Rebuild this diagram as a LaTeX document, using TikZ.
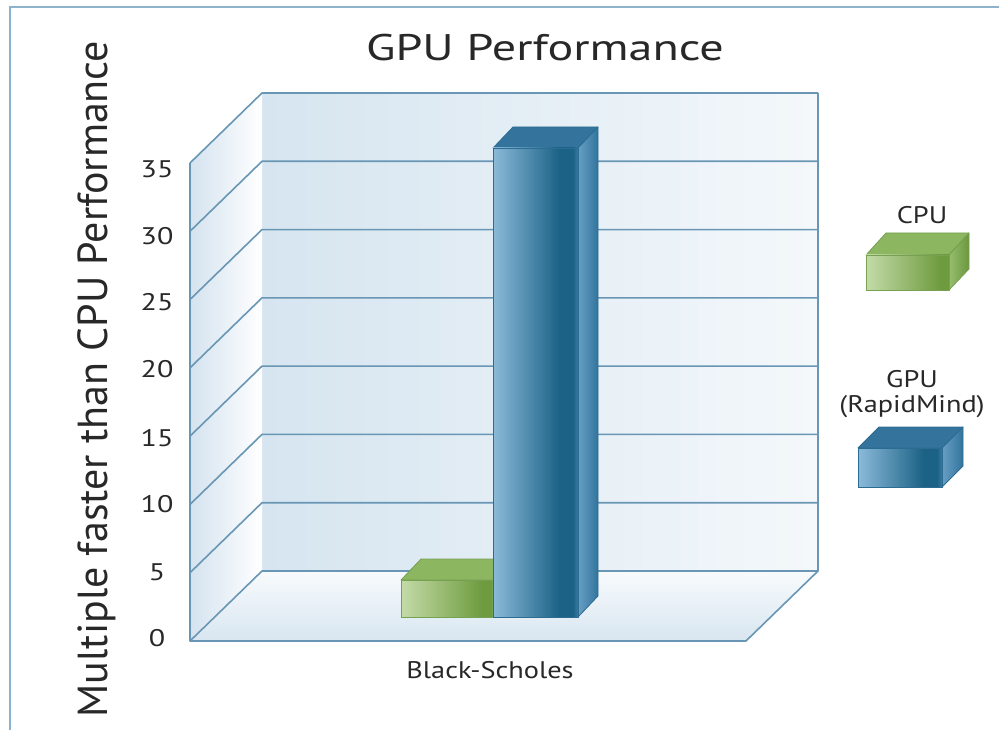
\documentclass[tikz,border=0pt]{standalone}
\usepackage{fontspec}
\setmainfont{PT Sans}
\definecolor{gridc}{RGB}{104,150,180}
\definecolor{frame}{RGB}{140,178,204}
\definecolor{wallL}{RGB}{214,229,240}
\definecolor{wallR}{RGB}{244,248,251}
\definecolor{sideL}{RGB}{212,227,239}
\definecolor{floorT}{RGB}{248,251,253}
\definecolor{floorB}{RGB}{216,230,240}
\definecolor{bL}{RGB}{140,186,217}
\definecolor{bD}{RGB}{27,98,134}
\definecolor{bM}{RGB}{58,122,160}
\definecolor{bTop}{RGB}{52,116,156}
\definecolor{bSideL}{RGB}{104,158,196}
\definecolor{bSideR}{RGB}{50,116,156}
\definecolor{bEdge}{RGB}{45,108,146}
\definecolor{gL}{RGB}{196,219,168}
\definecolor{gR}{RGB}{110,155,62}
\definecolor{gTop}{RGB}{140,182,96}
\definecolor{gSideL}{RGB}{150,190,110}
\definecolor{gSideR}{RGB}{108,150,62}
\definecolor{gEdge}{RGB}{118,160,82}
\definecolor{txt}{RGB}{40,40,40}
\pgfdeclarehorizontalshading{bluefront}{100bp}{color(0bp)=(bL); color(25bp)=(bL); color(64bp)=(bD); color(72bp)=(bD); color(75bp)=(bM); color(100bp)=(bM)}
\pgfdeclarehorizontalshading{greenfront}{100bp}{color(0bp)=(gL); color(25bp)=(gL); color(70bp)=(gR); color(75bp)=(gR); color(100bp)=(gR)}
\tikzset{
  gridline/.style={draw=gridc, line width=1.6pt, line join=round},
  ticklbl/.style={font=\fontsize{24}{26}\selectfont, text=txt, inner sep=0pt, xscale=1.25},
  lbl/.style={font=\fontsize{24}{26}\selectfont, text=txt, inner sep=0pt, xscale=1.18},
  bface/.style={draw=bEdge, line width=0.8pt, line join=round},
  gface/.style={draw=gEdge, line width=0.8pt, line join=round},
}
\begin{document}
\begin{tikzpicture}[x=1pt,y=-1pt]
\useasboundingbox (0,0) rectangle (999,730);
\fill[white] (0,0) rectangle (999,730);
% frame
\draw[frame, line width=2pt] (10,730) -- (10,7) -- (999,7);
% walls
\shade[left color=wallL, right color=wallR] (262,93) rectangle (818,571);
\shade[left color=sideL, right color=white] (190,163) -- (262,93) -- (262,571) -- (190,641) -- cycle;
\shade[top color=floorT, bottom color=floorB] (262,571) -- (818,571) -- (746,641) -- (190,641) -- cycle;
% grid lines
\foreach \v in {0,5,...,35}{
  \pgfmathsetmacro{\yb}{571-\v*13.657}
  \pgfmathsetmacro{\yf}{\yb+70}
  \draw[gridline] (190,\yf) -- (262,\yb) -- (818,\yb);
}
\draw[gridline] (190,163) -- (190,641) -- (746,641) -- (818,571) -- (818,93);
% tick labels
\foreach \v/\yy in {0/638,5/572,10/504,15/438,20/369,25/302,30/236,35/169}{
  \node[ticklbl] (t\v) at (157,\yy) {\v};
}
% CPU bar
\fill[gTop] (401,580) -- (421,559) -- (512,559) -- (492,580) -- cycle;
\draw[gface] (401,580) -- (421,559) -- (512,559) -- (492,580) -- cycle;
\shade[left color=gSideL, right color=gSideR] (492,580) -- (512,559) -- (512,596) -- (492,617) -- cycle;
\shade[shading=greenfront] (401,580) rectangle (492,617);
\draw[gface] (401,580) rectangle (492,617);
% GPU bar
\fill[bTop] (493,148) -- (513,127) -- (598,127) -- (578,148) -- cycle;
\draw[bface] (493,148) -- (513,127) -- (598,127) -- (578,148) -- cycle;
\shade[left color=bSideL, right color=bSideR] (578,148) -- (598,127) -- (598,596) -- (578,617) -- cycle;
\draw[bface] (578,148) -- (598,127) -- (598,596) -- (578,617) -- cycle;
\shade[shading=bluefront] (493,148) rectangle (578,617);
\draw[bface] (493,148) rectangle (578,617);
% legend CPU
\fill[gTop] (866,255) -- (886,233) -- (969,233) -- (949,255) -- cycle;
\draw[gface] (866,255) -- (886,233) -- (969,233) -- (949,255) -- cycle;
\shade[left color=gSideL, right color=gSideR] (949,255) -- (969,233) -- (969,269) -- (949,290) -- cycle;
\draw[gface] (949,255) -- (969,233) -- (969,269) -- (949,290) -- cycle;
\shade[shading=greenfront] (866,255) rectangle (949,290);
\draw[gface] (866,255) rectangle (949,290);
% legend GPU
\fill[bTop] (858,448) -- (879,427) -- (963,427) -- (942,448) -- cycle;
\draw[bface] (858,448) -- (879,427) -- (963,427) -- (942,448) -- cycle;
\shade[left color=bSideL, right color=bSideR] (942,448) -- (963,427) -- (963,466) -- (942,487) -- cycle;
\draw[bface] (942,448) -- (963,427) -- (963,466) -- (942,487) -- cycle;
\shade[shading=bluefront] (858,448) rectangle (942,487);
\draw[bface] (858,448) rectangle (942,487);
% texts
\node[font=\fontsize{37}{40}\selectfont, text=txt, inner sep=0pt, xscale=1.3] (title) at (545,48) {GPU Performance};
\node[font=\fontsize{42}{46}\selectfont, text=txt, inner sep=0pt, rotate=90] (ylab) at (97,379) {Multiple faster than CPU Performance};
\node[lbl] (xlab) at (490,670) {Black-Scholes};
\node[lbl] (cpu) at (922,215) {CPU};
\node[lbl, align=center, font=\fontsize{24}{25}\selectfont] (gpu) at (912,394) {GPU\\(RapidMind)};
\end{tikzpicture}
\end{document}
